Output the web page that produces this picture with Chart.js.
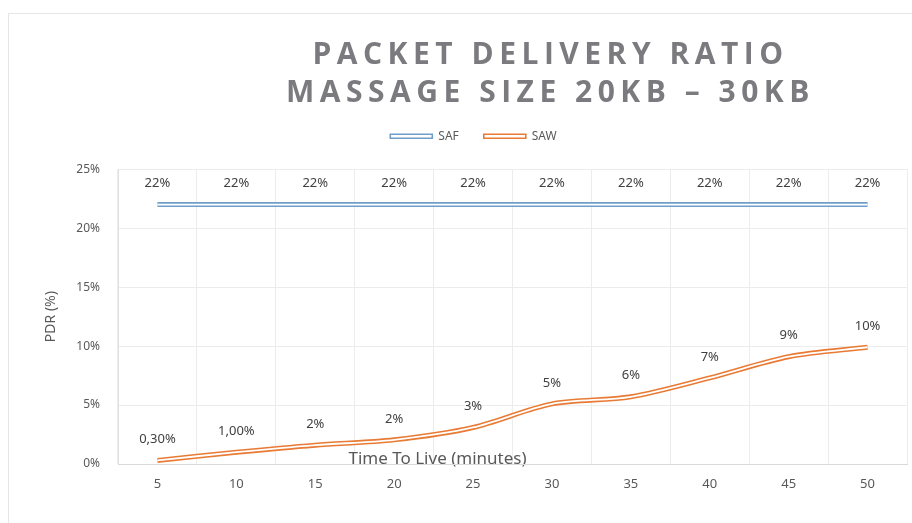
<!DOCTYPE html>
<html>
<head>
<meta charset="utf-8">
<script src="https://cdn.jsdelivr.net/npm/chart.js@4/dist/chart.umd.min.js"></script>
<style>
  html, body { margin: 0; padding: 0; background: #fff; }
  #wrap { position: relative; width: 912px; height: 523px; }
  #frame { position: absolute; left: 8px; top: 13px; right: 0; bottom: 0;
           border-left: 1px solid #e6e6e6; border-top: 1px solid #e6e6e6; pointer-events: none; }
</style>
</head>
<body>
<div id="wrap">
  <canvas id="pdrChart" width="912" height="523"></canvas>
  <div id="frame"></div>
</div>
<script>
'use strict';

// --- data ---
const ttlMinutes = ['5', '10', '15', '20', '25', '30', '35', '40', '45', '50'];
const safValues = [22, 22, 22, 22, 22, 22, 22, 22, 22, 22];
const sawValues = [0.3, 1.0, 1.6, 2.05, 3.1, 5.1, 5.7, 7.3, 9.1, 9.9];
const safLabels = ['22%', '22%', '22%', '22%', '22%', '22%', '22%', '22%', '22%', '22%'];
const sawLabels = ['0,30%', '1,00%', '2%', '2%', '3%', '5%', '6%', '7%', '9%', '10%'];
const yTicks = [0, 5, 10, 15, 20, 25];

const SAF_COLOR = '#6f9fc8';
const SAW_COLOR = '#e97a34';
const TEXT = '#595959';
const FONT = "'Noto Sans', 'Liberation Sans', sans-serif";

// each series is drawn as a wide coloured stroke with a thin white stroke on top
// (Excel "double" line look); the white one has the lower order so it lands on top
function doubleLine(label, data, color, tension) {
  return [
    { label: label + '_inner', data, borderColor: '#ffffff', borderWidth: 1.8,
      pointRadius: 0, tension, order: 1, fill: false },
    { label, data, borderColor: color, borderWidth: 5,
      pointRadius: 0, tension, order: 2, fill: false }
  ];
}

// data labels (no datalabels plugin available offline)
const valueLabels = {
  id: 'valueLabels',
  afterDatasetsDraw(chart) {
    const ctx = chart.ctx;
    const sets = [[1, safLabels], [3, sawLabels]];
    ctx.save();
    ctx.font = '13px ' + FONT;
    ctx.fillStyle = '#404040';
    ctx.textAlign = 'center';
    ctx.textBaseline = 'middle';
    sets.forEach(([idx, labels]) => {
      chart.getDatasetMeta(idx).data.forEach((pt, i) => {
        ctx.fillText(labels[i], pt.x, pt.y - 21);
      });
    });
    ctx.restore();
  }
};

// Excel-ish tweaks the options can't express: spaced + right-shifted title,
// a bit more room under the legend
const layoutTweaks = {
  id: 'layoutTweaks',
  beforeUpdate(chart) {
    const lg = chart.legend;
    if (lg && !lg._tweaked) {
      const fit = lg.fit.bind(lg);
      lg.fit = function () { fit(); this.height = 64; };
      lg._tweaked = true;
    }
  },
  beforeDraw(chart) {
    const tb = chart.titleBlock;
    if (!tb || tb._spaced) return;
    const orig = tb.draw.bind(tb);
    tb.draw = function () {
      chart.ctx.save();
      chart.ctx.letterSpacing = '5.5px';
      chart.ctx.translate(77, 0);
      orig();
      chart.ctx.restore();
    };
    tb._spaced = true;
  }
};

const ctx = document.getElementById('pdrChart').getContext('2d');
const chart = new Chart(ctx, {
  type: 'line',
  data: {
    labels: ttlMinutes,
    datasets: [
      ...doubleLine('SAF', safValues, SAF_COLOR, 0),
      ...doubleLine('SAW', sawValues, SAW_COLOR, 0.3)
    ]
  },
  plugins: [valueLabels, layoutTweaks],
  options: {
    responsive: false,
    animation: false,
    layout: { padding: { left: 40, right: 5, top: 0, bottom: 19 } },
    plugins: {
      title: {
        display: true,
        text: ['PACKET DELIVERY RATIO', 'MASSAGE SIZE 20KB \u2013 30KB'],
        color: '#7b7b7f',
        font: { family: "'Open Sans', 'DejaVu Sans', sans-serif", size: 30, weight: 'bold', lineHeight: 1.27 },
        padding: { top: 36, bottom: -7 }
      },
      legend: {
        display: true,
        position: 'top',
        labels: {
          color: TEXT,
          font: { family: FONT, size: 12 },
          boxWidth: 42,
          boxHeight: 4,
          padding: 25,
          generateLabels: () => [
            { text: 'SAF', fillStyle: '#ffffff', strokeStyle: SAF_COLOR, lineWidth: 1.6, datasetIndex: 1, hidden: false, fontColor: TEXT },
            { text: 'SAW', fillStyle: '#ffffff', strokeStyle: SAW_COLOR, lineWidth: 1.6, datasetIndex: 3, hidden: false, fontColor: TEXT }
          ]
        }
      },
      tooltip: { enabled: false }
    },
    scales: {
      x: {
        offset: true,
        grid: { offset: true, color: '#ececec', drawTicks: false },
        border: { color: '#d9d9d9' },
        ticks: { color: TEXT, font: { family: FONT, size: 13 }, padding: 12 },
        title: {
          display: true,
          text: 'Time To Live (minutes)',
          color: TEXT,
          font: { family: FONT, size: 17 },
          padding: { top: 0, bottom: 35 }
        },
        afterFit(scale) {
          scale.height = 40;
          if (!scale._shifted) {
            const dt = scale.drawTitle.bind(scale);
            scale.drawTitle = function () {
              scale.ctx.save();
              scale.ctx.translate(-75, 0);
              dt();
              scale.ctx.restore();
            };
            scale._shifted = true;
          }
        }
      },
      y: {
        min: 0,
        max: 25,
        grid: { color: '#ececec', drawTicks: false },
        border: { color: '#e0e0e0' },
        afterBuildTicks(scale) { scale.ticks = yTicks.map(v => ({ value: v })); },
        ticks: { color: TEXT, font: { family: FONT, size: 12 }, padding: 18, callback: v => v + '%' },
        title: {
          display: true,
          text: 'PDR (%)',
          color: TEXT,
          font: { family: FONT, size: 14 },
          padding: { top: 3, bottom: 13 }
        },
        afterFit(scale) { scale.width = 78; }
      }
    }
  }
});
chart.draw();
</script>
</body>
</html>
